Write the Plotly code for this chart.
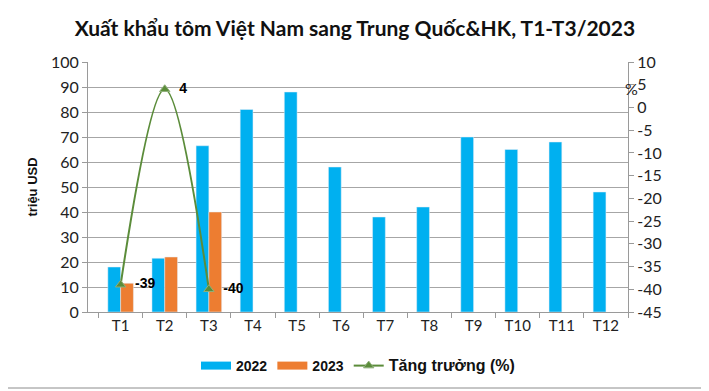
import plotly.graph_objects as go

months = ["T1", "T2", "T3", "T4", "T5", "T6", "T7", "T8", "T9", "T10", "T11", "T12"]
v2022 = [18, 21.5, 66.5, 81, 88, 58, 38, 42, 70, 65, 68, 48]
v2023 = [11.5, 22, 40]
growth = [-39, 4, -40]
growth_labels = ["-39", "4", "-40"]
y2_ticks = [10, 5, 0, -5, -10, -15, -20, -25, -30, -35, -40, -45]

BLUE, ORANGE, GREEN = "#00B0F0", "#ED7D31", "#5B8C3A"

# page body has an 8px margin: screen coords = figure coords + 8
OFF = 8
PL, PR, PT, PB = 88 - OFF, 628 - OFF, 62 - OFF, 312 - OFF
W, H = 709, 391
PW, PH = PR - PL, PB - PT


def px(sx):
    return (sx - OFF - PL) / PW


def py(sy):
    return (PB - (sy - OFF)) / PH


fig = go.Figure()
fig.add_trace(go.Bar(x=months, y=v2022, name="2022", marker_color=BLUE, showlegend=False))
fig.add_trace(go.Bar(x=months[:3], y=v2023, name="2023", marker_color=ORANGE, showlegend=False))
# legend swatches (wide rectangles like the reference)
fig.add_trace(go.Scatter(x=[None], y=[None], mode="lines", name="2022",
                         line=dict(color=BLUE, width=8)))
fig.add_trace(go.Scatter(x=[None], y=[None], mode="lines", name="2023",
                         line=dict(color=ORANGE, width=8)))
fig.add_trace(go.Scatter(
    x=months[:3], y=growth, name="<span style='font-size:16px'>Tăng trưởng (%)</span>", yaxis="y2",
    mode="lines+markers+text", text=["  " + t for t in growth_labels], textposition="middle right",
    textfont=dict(family="Arial", size=14, color="black", weight="bold"),
    line=dict(color=GREEN, width=2, shape="spline", smoothing=1),
    marker=dict(symbol="triangle-up", size=9, color=GREEN, line=dict(color="#8FAF7A", width=1)),
    cliponaxis=False,
))

tickfont = dict(family="Lato", size=16, color="#222")
fig.update_layout(
    width=W, height=H,
    margin=dict(l=PL, r=W - PR, t=PT, b=H - PB, autoexpand=False),
    paper_bgcolor="white", plot_bgcolor="white",
    barmode="group", bargap=0.42, bargroupgap=0,
    title=dict(text="Xuất khẩu tôm Việt Nam sang Trung Quốc&HK, T1-T3/2023",
               x=(355 - OFF) / W, xanchor="center", xref="container",
               y=1 - (29 - OFF) / H, yref="container", yanchor="middle",
               font=dict(family="Lato", size=21, color="#111", weight="bold")),
    xaxis=dict(showline=True, linecolor="#9a9a9a", ticks="outside", tickson="boundaries",
               ticklen=5, tickcolor="#9a9a9a", automargin=False,
               tickfont=dict(family="Lato", size=15, color="#222")),
    yaxis=dict(range=[0, 100], dtick=10, showgrid=True, gridcolor="#a6a6a6",
               showline=True, linecolor="#9a9a9a", ticks="outside", ticklen=5, automargin=False,
               tickcolor="#9a9a9a", tickfont=tickfont, zeroline=False,
               title=dict(text="triệu USD", standoff=10,
                          font=dict(family="Arial", size=13, color="#111", weight="bold"))),
    yaxis2=dict(range=[-45, 10], tickvals=y2_ticks, ticktext=[str(t) for t in y2_ticks],
                overlaying="y", side="right", showgrid=False, automargin=False,
                showline=True, linecolor="#9a9a9a", ticks="outside", ticklen=5,
                tickcolor="#9a9a9a", tickfont=tickfont, zeroline=False),
    legend=dict(orientation="h", x=px(358), xanchor="center",
                y=1 - (366 - OFF) / H, yref="container", yanchor="middle",
                font=dict(family="Arial", size=14, color="#111", weight="bold"),
                traceorder="normal"),
    showlegend=True,
)
fig.add_annotation(text="%", xref="paper", yref="paper", x=px(640), y=py(77),
                   showarrow=False, font=dict(family="Lato", size=16, color="#222"))
fig.add_shape(type="rect", xref="paper", yref="paper",
              x0=px(2), x1=px(706), y0=py(388), y1=py(2),
              line=dict(color="#8c8c8c", width=1))
fig.write_html("out.html")
